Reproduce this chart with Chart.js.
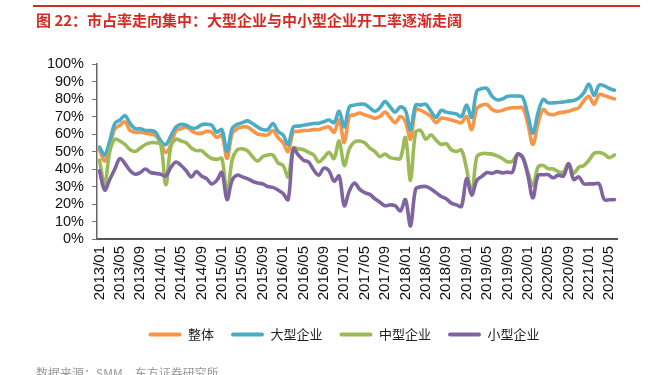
<!DOCTYPE html>
<html><head><meta charset="utf-8">
<script src="https://cdn.jsdelivr.net/npm/chart.js@4.4.1/dist/chart.umd.min.js"></script>
<style>
html,body{margin:0;padding:0;width:648px;height:375px;overflow:hidden;background:#fff;}
#wrap{position:relative;width:648px;height:375px;}
#c{position:absolute;left:0;top:0;}
#rule{position:absolute;left:33px;top:5px;width:607px;height:1.5px;background:#d42a22;}
#title{position:absolute;left:36px;top:9px;font:bold 15px "Noto Sans CJK SC",sans-serif;color:#d42a22;white-space:nowrap;}
#src{position:absolute;left:36px;top:364px;font:12px "Noto Sans CJK SC",sans-serif;color:#999;white-space:nowrap;}
</style></head>
<body><div id="wrap">
<canvas id="c" width="648" height="375"></canvas>
<div id="rule"></div>
<div id="title">图 22：市占率走向集中：大型企业与中小型企业开工率逐渐走阔</div>
<div id="src">数据来源：SMM，东方证券研究所</div>
</div>
<script>
const categories = [
 "2013/01","2013/02","2013/03","2013/04","2013/05","2013/06","2013/07","2013/08","2013/09","2013/10","2013/11","2013/12",
 "2014/01","2014/02","2014/03","2014/04","2014/05","2014/06","2014/07","2014/08","2014/09","2014/10","2014/11","2014/12",
 "2015/01","2015/02","2015/03","2015/04","2015/05","2015/06","2015/07","2015/08","2015/09","2015/10","2015/11","2015/12",
 "2016/01","2016/02","2016/03","2016/04","2016/05","2016/06","2016/07","2016/08","2016/09","2016/10","2016/11","2016/12",
 "2017/01","2017/02","2017/03","2017/04","2017/05","2017/06","2017/07","2017/08","2017/09","2017/10","2017/11","2017/12",
 "2018/01","2018/02","2018/03","2018/04","2018/05","2018/06","2018/07","2018/08","2018/09","2018/10","2018/11","2018/12",
 "2019/01","2019/02","2019/03","2019/04","2019/05","2019/06","2019/07","2019/08","2019/09","2019/10","2019/11","2019/12",
 "2020/01","2020/02","2020/03","2020/04","2020/05","2020/06","2020/07","2020/08","2020/09","2020/10","2020/11","2020/12",
 "2021/01","2021/02","2021/03","2021/04","2021/05","2021/06"
];
const tickLabels = ["2013/01","2013/05","2013/09","2014/01","2014/05","2014/09","2015/01","2015/05","2015/09",
 "2016/01","2016/05","2016/09","2017/01","2017/05","2017/09","2018/01","2018/05","2018/09",
 "2019/01","2019/05","2019/09","2020/01","2020/05","2020/09","2021/01","2021/05"];
const seriesNames = ["整体","大型企业","中型企业","小型企业"];
const overall = [
 51,44.5,53,63,65,67,62,61,61,60.5,60,59,
 55,49.5,54,62,63,64,62,60.5,60.5,61.5,61,58,
 59.5,46,60,63,64,64,62,60,59.5,59.5,62,58,
 55,50,61,61.5,62,62,62.5,62.5,63.5,64,61,68,
 55,70,71,72,71,70,69,70,72.5,69.5,66.5,70,
 67,57,74,73.5,72,70,66.5,69,68.7,68,67.2,66.5,
 70,62.5,74.5,76.5,76.8,74,73,73.5,74.5,75,75,75,
 66,54,66,74,71.5,71,72,72.5,73,74,75,79,
 81.5,77,82.5,82,81,80
];
const large = [
 52.5,48,56,66,68,70.5,66,63,63,62,62,61,
 56,54,59,64,65.5,65,63.5,63.5,65.3,65.6,65,61,
 62.5,50,63,65.5,66.5,67.5,66,64,62.5,62.5,66,61.5,
 59.5,54,64,64.5,65,65.5,66,66.2,67,68,66.5,73,
 64,75.5,76.5,77,77,75,73,75,78.5,75.5,72.5,75.5,
 73.5,62.5,76.5,76.5,77,73,69.5,73.5,72.5,72,71.4,70,
 76.5,69.5,84.5,86,86,81.5,79.5,80,81.5,81.7,81.7,81,
 71,60.5,72,79.7,77.8,77.8,78,78.3,78.8,79.2,80.5,83.5,
 88.5,82,88,87.5,86,85
];
const medium = [
 45,31,50,57,56,54,51,50,52,54,55,55,
 54,31,53,57,56,55,52,50.5,50.5,48,46,45.5,
 46,25,45,51,51.5,50.5,47,44.5,47,48,48,43.5,
 42,35.5,52,51.5,51,49.5,48,44,46.5,49.5,46,56,
 42,51.5,55.5,56,55,52,50,47,48.5,46.5,46,46,
 58,33.5,61,62,57,59.5,56.5,54,54.5,51,50,50.8,
 40,26,47,48.8,48.8,48.5,47.5,46,44.2,44.4,48.5,47,
 38.5,30.5,41,42,40.2,40,38.5,38.2,43,37.5,41,42,
 45,49,49.4,48.5,46.5,48
];
const small = [
 39,28,34,40,46,43,39,37,38,40,38,37.5,
 37,36,41,44,42,39,35.5,38.5,36,34.5,31.5,33.5,
 38,22.5,33.5,36.5,35.5,34.5,33,32,31.5,30,29.5,28,
 26,22.5,51.5,48,45,44,39.5,36.5,40.5,39,33,36,
 19,27.5,32,28.5,26.5,25.5,23,21,19,19.5,19,16,
 22.5,7.5,28.5,29.8,30,28.6,26.5,24.3,23,20.5,19.5,18.7,
 34.5,25,33.5,35.8,38,37.5,38.5,37.8,38.2,38.2,48.5,46.5,
 36.5,23.5,36.3,36.7,36.7,35,36.5,36,43,34,35.5,31.5,
 31.5,31.5,31.5,22.5,22.4,22.5
];
const colors = ["#F79646","#4BACC6","#9BBB59","#8064A2"];
const values = [overall, large, medium, small];

const datasets = values.map((d, k) => ({
  label: seriesNames[k],
  data: d,
  borderColor: colors[k],
  backgroundColor: colors[k],
  borderWidth: 3.6,
  pointRadius: 0,
  tension: 0.35,
  fill: false,
  order: 4 - k,
  borderCapStyle: 'round',
  borderJoinStyle: 'round'
}));

const shiftLegend = {
  id: 'shiftLegend',
  afterLayout(chart) { if (chart.legend) { chart.legend.left = 71; } }
};

new Chart(document.getElementById('c'), {
  type: 'line',
  data: { labels: categories, datasets },
  plugins: [shiftLegend],
  options: {
    responsive: false,
    devicePixelRatio: 1,
    animation: false,
    layout: { padding: { left: 0, right: 31, top: 64, bottom: 24 } },
    plugins: {
      tooltip: { enabled: false },
      legend: {
        position: 'bottom',
        labels: {
          boxWidth: 33, boxHeight: 4, padding: 17,
          color: '#222',
          font: { family: '"Noto Sans CJK SC", sans-serif', size: 13 },
          sort: (a, b) => a.datasetIndex - b.datasetIndex,
          generateLabels: (chart) => {
            const items = Chart.defaults.plugins.legend.labels.generateLabels(chart);
            items.forEach(it => { it.lineWidth = 0; it.fillStyle = colors[it.datasetIndex]; it.borderRadius = 2; });
            return items;
          }
        }
      }
    },
    scales: {
      x: {
        offset: true,
        grid: { display: false, drawTicks: false },
        border: { color: '#555', width: 2 },
        afterFit: (s) => { s.height = 72; },
        ticks: {
          autoSkip: false, maxRotation: 90, minRotation: 90, padding: 7,
          color: '#111',
          font: { family: '"Liberation Sans", Arial, sans-serif', size: 15 },
          callback: function(v, i) { const l = categories[i]; return tickLabels.includes(l) ? l : null; }
        }
      },
      y: {
        min: 0, max: 100,
        afterFit: (s) => { s.width = 97; },
        grid: { drawOnChartArea: false, drawTicks: true, tickLength: 5, color: '#777' },
        border: { color: '#666', width: 1.5 },
        ticks: {
          autoSkip: false,
          stepSize: 10, padding: 8, color: '#111',
          font: { family: '"Liberation Sans", Arial, sans-serif', size: 14.5 },
          callback: (v) => v + '%'
        }
      }
    }
  }
});
</script>
</body></html>
